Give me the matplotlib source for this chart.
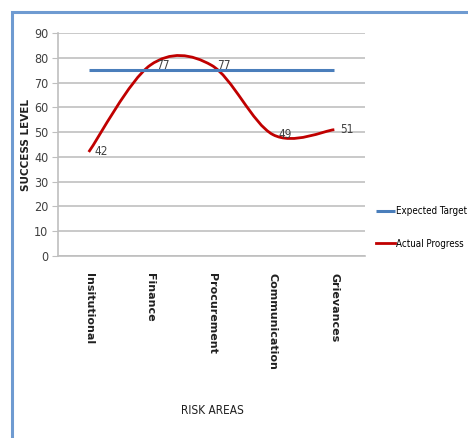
import matplotlib
matplotlib.use('Agg')
import numpy as np
import matplotlib.pyplot as plt
from matplotlib import font_manager
from matplotlib.path import Path
from matplotlib.patches import PathPatch, Rectangle

# data
areas = ['Insitutional', 'Finance', 'Procurement', 'Communication', 'Grievances']
expected = [75, 75, 75, 75, 75]
actual = [42, 77, 77, 49, 51]
yticks = [0, 10, 20, 30, 40, 50, 60, 70, 80, 90]

# narrow face for the calibri-like texts, if one is there
names = {f.name for f in font_manager.fontManager.ttflist}
cond = [f for f in font_manager.fontManager.ttflist
        if f.name == 'DejaVu Sans' and f.stretch == 'condensed'
        and f.weight in (400, 'normal') and f.style == 'normal']
if 'Liberation Sans Narrow' in names:
    narrow = font_manager.FontProperties(family='Liberation Sans Narrow')
elif cond:
    narrow = font_manager.FontProperties(fname=cond[0].fname)
else:
    narrow = font_manager.FontProperties(family='DejaVu Sans')

fig = plt.figure(figsize=(4.68, 4.38), dpi=100)
ax = fig.add_axes([0.124, 0.4155, 0.656, 0.509])

# light blue frame round the chart, cut off at right and bottom
fig.patches.append(Rectangle((12 / 468, -0.1), 1.2, 1 - 12 / 438 + 0.1,
                             transform=fig.transFigure, fill=False,
                             edgecolor='#6f9bd1', linewidth=2.2))

x = np.arange(len(areas))
ax.plot(x, expected, color='#4a7ebb', linewidth=2.2, label='Expected Target',
        solid_capstyle='butt')

# smoothed line like the spreadsheet one: bezier segments through the points
pts = list(zip(x, actual))
verts = [pts[0]]
codes = [Path.MOVETO]
for i in range(len(pts) - 1):
    p0 = pts[max(i - 1, 0)]
    p1 = pts[i]
    p2 = pts[i + 1]
    p3 = pts[min(i + 2, len(pts) - 1)]
    c1 = (p1[0] + (p2[0] - p0[0]) / 6, p1[1] + (p2[1] - p0[1]) / 6)
    c2 = (p2[0] - (p3[0] - p1[0]) / 6, p2[1] - (p3[1] - p1[1]) / 6)
    verts += [c1, c2, p2]
    codes += [Path.CURVE4] * 3
ax.add_patch(PathPatch(Path(verts, codes), fill=False, edgecolor='#c00000',
                       linewidth=2.0, capstyle='butt'))
ax.plot([], [], color='#c00000', linewidth=2.0, label='Actual Progress')

def nf(size):
    p = narrow.copy()
    p.set_size(size)
    return p

for xi, v in zip(x, actual):
    ax.annotate(str(v), (xi, v), xytext=(4, 0), textcoords='offset points',
                va='center', ha='left', fontproperties=nf(8.5),
                color='#404040')

ax.set_xlim(-0.5, len(areas) - 0.5)
ax.set_ylim(0, 90)
ax.set_yticks(yticks)
ax.yaxis.grid(True, color='#c0c0c0', linewidth=1.2)
ax.set_axisbelow(True)
for s in ['top', 'right']:
    ax.spines[s].set_visible(False)
for s in ['left', 'bottom']:
    ax.spines[s].set_color('#bfbfbf')
    ax.spines[s].set_linewidth(1.2)
ax.tick_params(axis='y', length=4, color='#bfbfbf', labelcolor='#404040', pad=3)
for lab in ax.get_yticklabels():
    lab.set_fontproperties(nf(9))
ax.set_xticks(x)
ax.set_xticklabels(areas, rotation=-90, fontsize=8, fontweight='bold',
                   va='top', ha='center', color='#202020')
ax.tick_params(axis='x', length=0, pad=12)

ax.set_ylabel('SUCCESS LEVEL', fontsize=7.5, fontweight='bold', labelpad=2,
              color='#202020')
fig.text(212 / 468, 1 - 410 / 438, 'RISK AREAS', ha='center', va='center',
         fontproperties=nf(8.5), color='#202020')

ax.legend(loc='center left', bbox_to_anchor=(1.035, 0.128), frameon=False,
          prop=nf(7), handlelength=2.0, handletextpad=0.1, labelspacing=2.3,
          borderpad=0, borderaxespad=0)

fig.savefig('out.png', dpi=100)
